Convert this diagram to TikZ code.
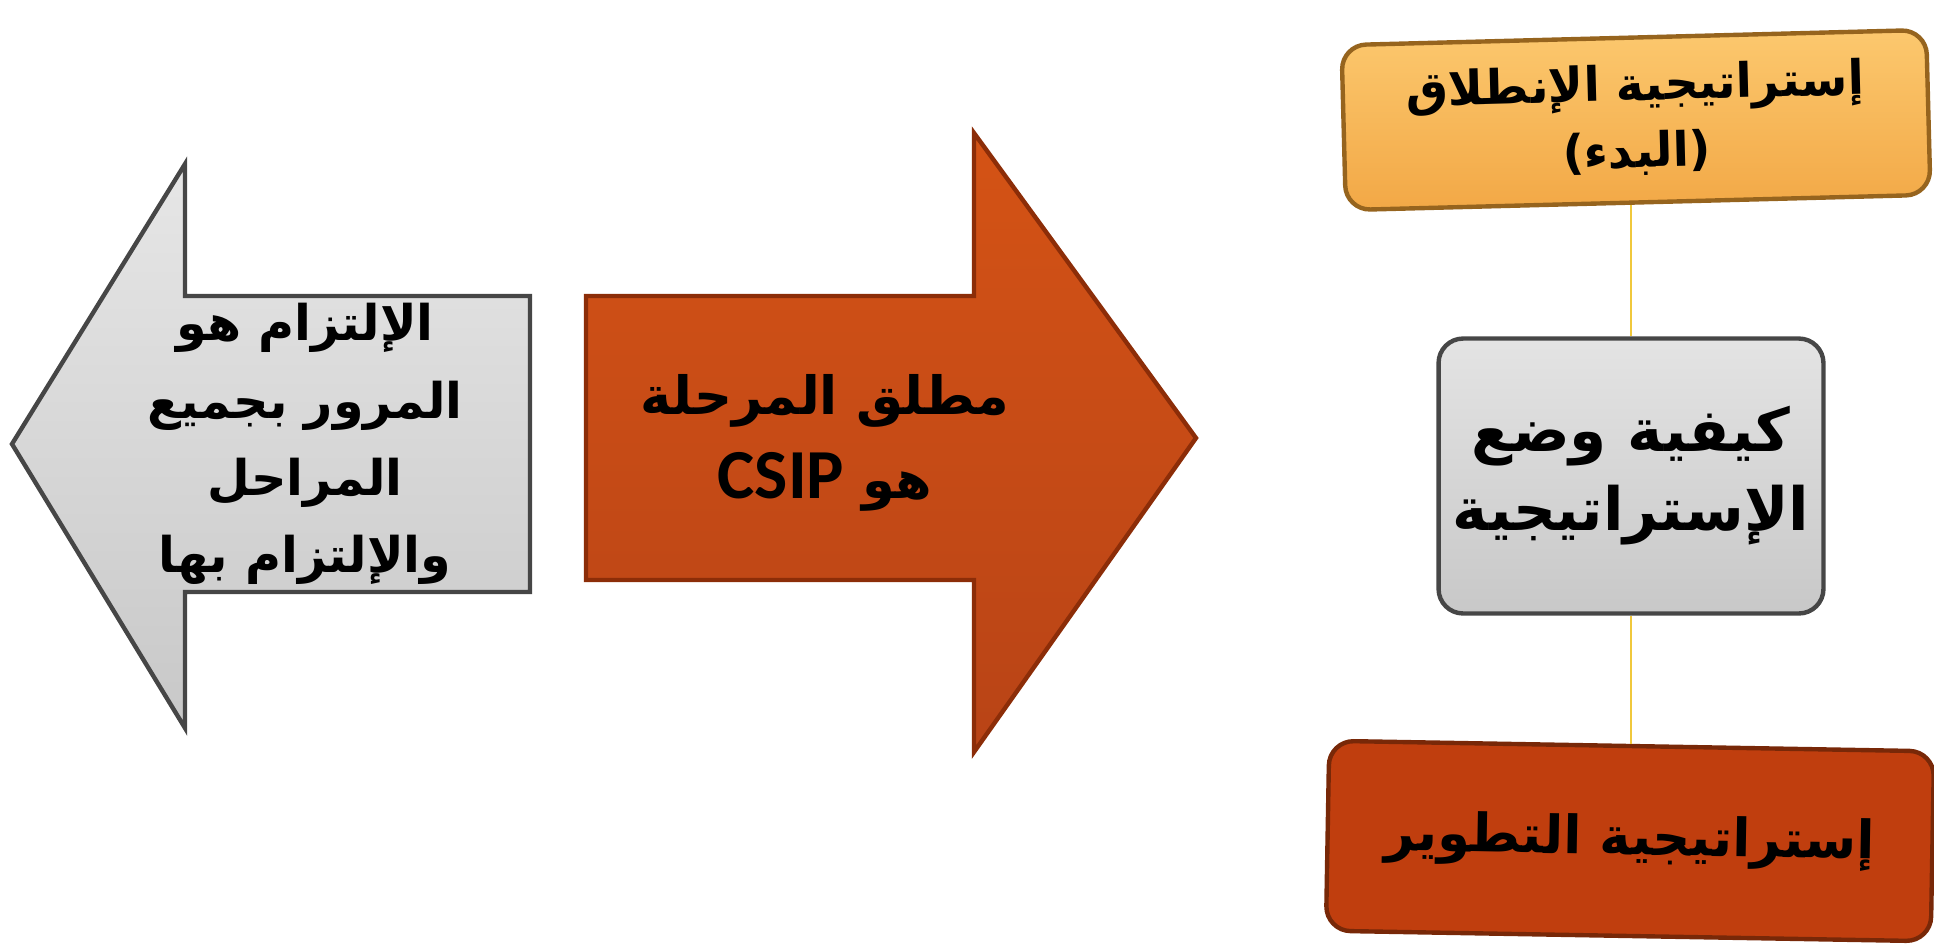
\documentclass[tikz,border=0pt]{standalone}
\usepackage{fontspec}
\newfontfamily\arabicfont[Script=Arabic]{DejaVu Sans}
\newfontfamily\latinfont{Carlito}
\TeXXeTstate=1
\definecolor{arrowgray}{RGB}{200, 200, 200}
\definecolor{edgegray}{RGB}{70, 70, 70}
\definecolor{burnt}{RGB}{205, 75, 25}
\definecolor{burntedge}{RGB}{140, 45, 8}
\definecolor{gold}{RGB}{242, 168, 70}
\definecolor{goldlight}{RGB}{252, 200, 110}
\definecolor{goldedge}{RGB}{150, 100, 30}
\definecolor{rust}{RGB}{192, 62, 14}
\definecolor{rustedge}{RGB}{120, 40, 8}
\definecolor{linkyellow}{RGB}{240, 200, 60}
\usetikzlibrary{positioning, calc}

\begin{document}
\begin{tikzpicture}[x=0.02cm, y=-0.02cm,
  arrowtext/.style={font=\arabicfont\bfseries, text=black, align=center, inner sep=0pt},
  stagebox/.style={rounded corners=14pt, line width=2.5pt, align=center, inner sep=0pt, font=\arabicfont\bfseries, text=black}]
  \useasboundingbox (0,0) rectangle (1934,951);

  % Left arrow
  \draw[line width=2.5pt, draw=edgegray, top color=arrowgray!45, bottom color=arrowgray] (12,444) -- (185,164) -- (185,296) -- (530,296) -- (530,592) -- (185,592) -- (185,728) -- cycle;
  \node[arrowtext, font=\arabicfont\bfseries\fontsize{28}{44}\selectfont] (commit) at (305,444) {\beginR الإلتزام هو\endR\\ \beginR المرور بجميع\endR\\ \beginR المراحل\endR\\ \beginR والإلتزام بها\endR};

  % Right arrow
  \draw[line width=2.5pt, draw=burntedge, top color=burnt!85!orange, bottom color=burnt!90!black] (586,296) -- (974,296) -- (974,133) -- (1196,438) -- (974,752) -- (974,580) -- (586,580) -- cycle;
  \node[arrowtext, font=\arabicfont\bfseries\fontsize{30}{48}\selectfont] (csip) at (825,443) {\beginR مطلق المرحلة\endR\\ \beginR هو {\latinfont\bfseries\fontsize{40}{48}\selectfont\beginL CSIP\endL}\endR};

  % Strategy boxes
  \node[stagebox, draw=goldedge, top color=goldlight, bottom color=gold, minimum width=11.7cm, minimum height=3.3cm, rotate=1.5, font=\arabicfont\bfseries\fontsize{27}{38}\selectfont] (start) at (1636,120) {\beginR إستراتيجية الإنطلاق\endR\\ (البدء)};
  \node[stagebox, draw=edgegray, top color=arrowgray!50, bottom color=arrowgray, minimum width=7.7cm, minimum height=5.5cm, font=\arabicfont\bfseries\fontsize{34}{45}\selectfont] (how) at (1631,476) {\beginR كيفية وضع\endR\\ \beginR الإستراتيجية\endR};
  \node[stagebox, draw=rustedge, fill=rust, minimum width=12.1cm, minimum height=3.8cm, rotate=-1, font=\arabicfont\bfseries\fontsize{30}{40}\selectfont] (grow) at (1630,841) {\beginR إستراتيجية التطوير\endR};

  \draw[linkyellow, line width=1.2pt] (how.north) -- (how.north |- start.south);
  \draw[linkyellow, line width=1.2pt] (how.south) -- (how.south |- grow.north);
\end{tikzpicture}
\end{document}
